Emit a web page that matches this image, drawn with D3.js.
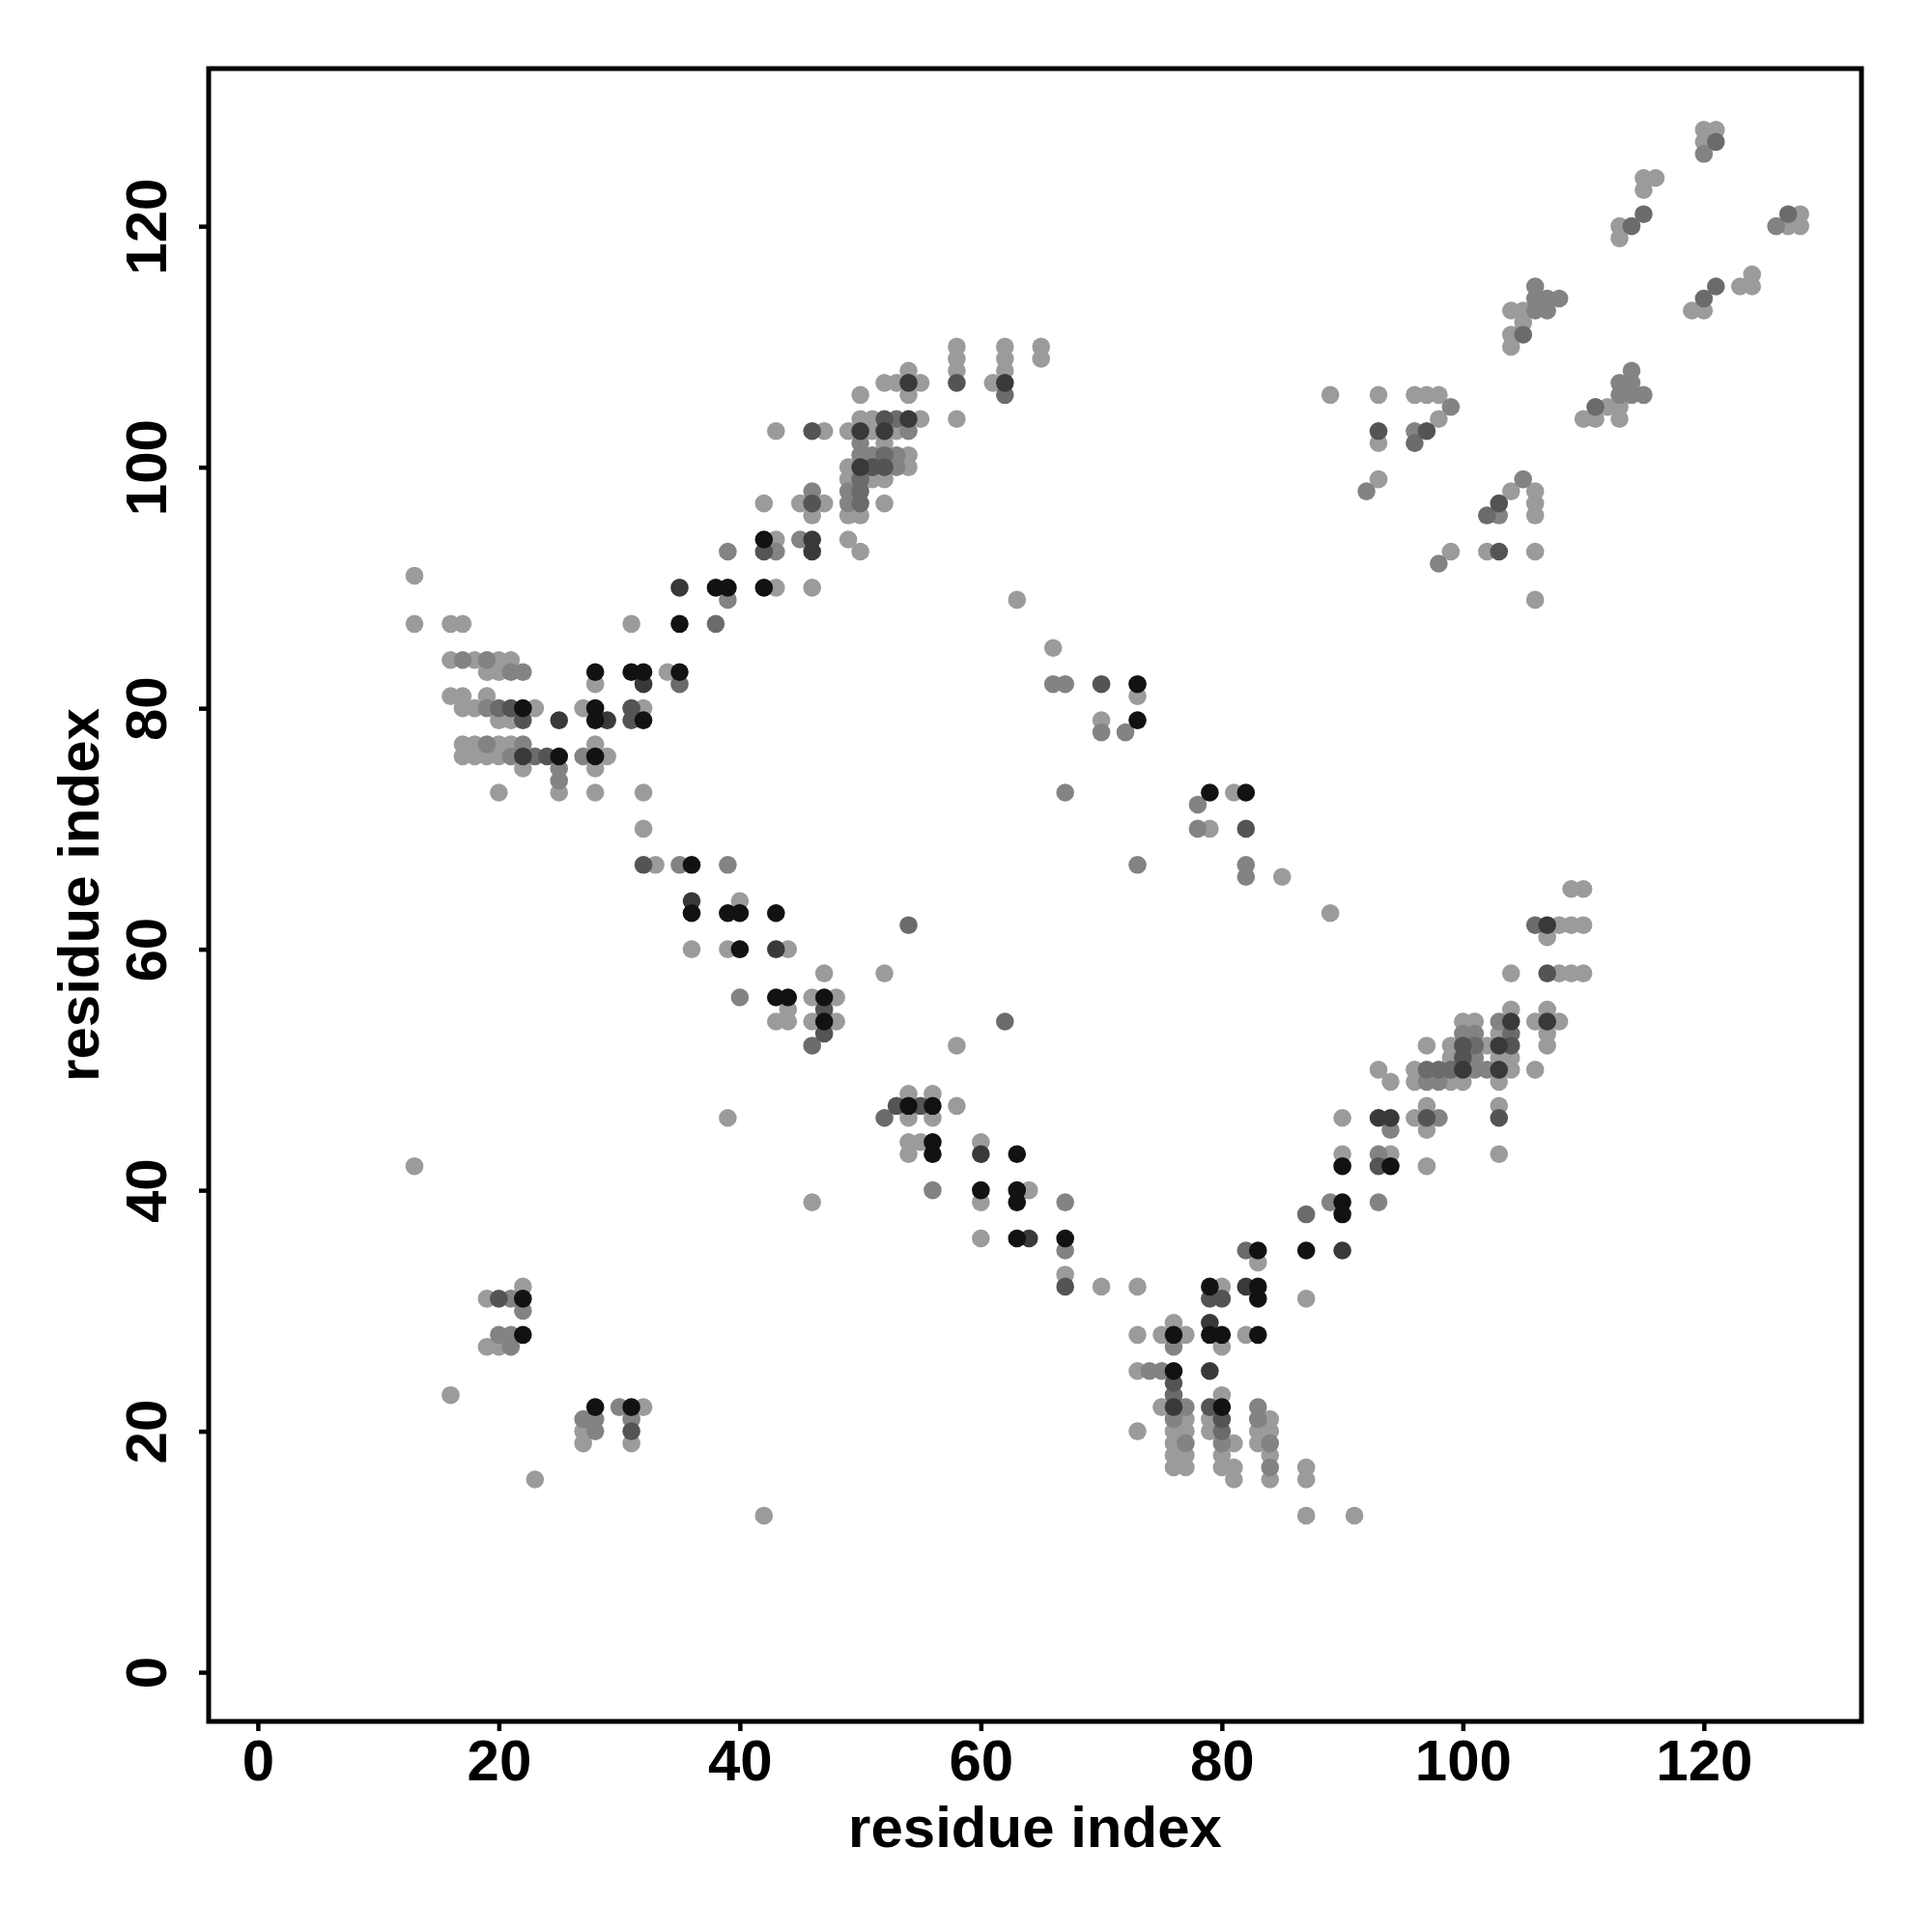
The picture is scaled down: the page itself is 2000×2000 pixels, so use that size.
<!DOCTYPE html>
<html>
<head>
<meta charset="utf-8">
<script src="https://cdn.jsdelivr.net/npm/d3@7"></script>
<style>
  html, body { margin: 0; padding: 0; background: #ffffff; }
  svg text { font-family: "Liberation Sans", Arial, Helvetica, sans-serif; font-weight: bold; fill: #000; }
</style>
</head>
<body>
<svg id="chart" width="2000" height="2000"></svg>
<script>
// ---- data (symmetric contact map: each contact i<j is drawn at (i,j) and (j,i)) ----
const firstResidue = [13,16,17,18,19,20,21,22,23,24,25,27,28,29,31,32,33,34,35,36,38,39,40,42,43,44,45,46,47,48,49,50,51,52,53,54,55,58,61,62,63,65,66,67,70,72,73,89,92,93,96,97,98,99,104,105,106,107,108,113,114,115,116,120,121];

const partnerResidues = [
  [42,87,91],
  [23,81,84,87],
  [76,77,80,81,84,87],
  [76,77,80,84],
  [27,31,76,77,80,81,83,84],
  [27,28,31,73,76,77,79,80,83,84],
  [27,28,31,76,77,79,80,83,84],
  [28,30,31,32,75,76,77,79,80,83],
  [76,80],
  [76],
  [73,74,75,76,79],
  [76,80],
  [73,75,76,77,79,80,82,83],
  [76,79],
  [79,80,83,87],
  [67,70,73,79,80,82,83],
  [67],
  [83],
  [67,82,83,87,90],
  [60,63,64,67],
  [87,90],
  [46,60,63,67,89,90,93],
  [56,60,63,64],
  [90,93,94,97],
  [54,56,60,63,90,93,94,103],
  [54,55,56,60],
  [94,97],
  [52,54,56,90,93,94,96,97,98,103],
  [53,54,55,56,58,97,103],
  [54,56],
  [94,96,97,98,99,100,103],
  [93,96,97,98,99,100,101,102,103,104,106],
  [99,100,101,103,104],
  [58,97,99,100,101,102,103,104,107],
  [100,101,103,104,107],
  [62,100,101,103,104,106,107,108],
  [104,107],
  [104,107,108,109,110],
  [107],
  [106,107,108,109,110],
  [89],
  [109,110],
  [82,85],
  [73,82],
  [78,79,82],
  [78],
  [79,81,82],
  [106],
  [98],
  [99,102,103,106],
  [102,103,106],
  [103,106],
  [104,106],
  [105],
  [110,111,113],
  [111,112,113],
  [113,114,115],
  [113,114],
  [114],
  [119,120],
  [120],
  [121,123,124],
  [124],
  [126,127,128],
  [127,128]
];

// contact strength level, 1 = weakest (light grey) ... 6 = strongest (black)
const contactLevels = [
  [1,1,1],
  [1,1,1,1],
  [1,1,1,1,2,1],
  [1,1,1,1],
  [1,1,1,2,2,1,1,2],
  [1,2,4,1,1,1,1,3,1,1],
  [2,2,2,2,1,1,4,2,1],
  [6,2,6,1,1,5,2,4,6,2],
  [3,1],
  [4],
  [1,2,2,6,5],
  [2,1],
  [1,1,6,1,6,6,1,6],
  [1,5],
  [4,4,6,1],
  [4,1,1,6,1,5,6],
  [1],
  [1],
  [2,3,6,6,5],
  [1,6,5,6],
  [3,6],
  [1,1,6,2,2,6,2],
  [2,6,6,1],
  [6,4,6,1],
  [1,6,5,6,1,2,1,1],
  [1,1,6,1],
  [2,1],
  [3,1,1,1,5,5,1,4,2,4],
  [4,6,4,6,1,1,1],
  [1,1],
  [1,1,2,2,1,1,1],
  [1,1,3,3,3,5,2,2,5,1,1],
  [1,4,2,1,1],
  [1,1,1,4,3,1,5,4,1],
  [2,2,1,3,1],
  [3,1,1,2,5,1,5,1],
  [1,1],
  [1,4,1,1,1],
  [1],
  [3,5,1,1,1],
  [1],
  [1,1],
  [2,1],
  [2,2],
  [2,1,4],
  [2],
  [6,1,6],
  [1],
  [2],
  [1,1,4,1],
  [3,2,1],
  [4,1],
  [1,1],
  [2],
  [1,1,1],
  [3,1,1],
  [2,2,2],
  [2,2],
  [2],
  [1,1],
  [3],
  [3,1,1],
  [1],
  [2,1,1],
  [3,1]
];

const tickValues = [0, 20, 40, 60, 80, 100, 120];
const xTitle = "residue index";
const yTitle = "residue index";

// ---- styles / layout ----
const levelColors = ["#9b9b9b", "#838383", "#6b6b6b", "#545454", "#393939", "#121212"];
const plot = { left: 216, right: 1927, top: 71, bottom: 1782 };
const domain = [-4.08, 133.08];

const svg = d3.select("#chart");
const x = d3.scaleLinear().domain(domain).range([plot.left, plot.right]);
const y = d3.scaleLinear().domain(domain).range([plot.bottom, plot.top]);
const color = d3.scaleOrdinal().domain([1,2,3,4,5,6]).range(levelColors);

// build points
const points = [];
firstResidue.forEach((a, k) => {
  const partners = partnerResidues[k] || [];
  const levels = contactLevels[k] || [];
  partners.forEach((b, m) => {
    const lv = levels[m] || 1;
    points.push({ a: a, b: b, level: lv });
    points.push({ a: b, b: a, level: lv });
  });
});
points.sort((p, q) => p.level - q.level);

svg.append("g")
  .selectAll("circle")
  .data(points)
  .join("circle")
  .attr("cx", d => x(d.a))
  .attr("cy", d => y(d.b))
  .attr("r", 9.3)
  .attr("fill", d => color(d.level));

// axes
const xAxis = svg.append("g")
  .attr("transform", `translate(0,${plot.bottom})`)
  .call(d3.axisBottom(x).tickValues(tickValues).tickSize(10).tickSizeOuter(0));
xAxis.select(".domain").remove();
xAxis.selectAll(".tick line").attr("stroke", "#000").attr("stroke-width", 4.5);
xAxis.selectAll(".tick text")
  .attr("y", 61).attr("dy", null)
  .attr("font-size", 60)
  .attr("text-anchor", "middle");

const yAxis = svg.append("g")
  .attr("transform", `translate(${plot.left},0)`)
  .call(d3.axisLeft(y).tickValues(tickValues).tickSize(10).tickSizeOuter(0));
yAxis.select(".domain").remove();
yAxis.selectAll(".tick line").attr("stroke", "#000").attr("stroke-width", 4.5);
yAxis.selectAll(".tick text")
  .attr("x", null).attr("y", null).attr("dy", null)
  .attr("transform", "translate(-44,0) rotate(-90)")
  .attr("font-size", 60)
  .attr("text-anchor", "middle");

// frame
svg.append("rect")
  .attr("x", plot.left).attr("y", plot.top)
  .attr("width", plot.right - plot.left).attr("height", plot.bottom - plot.top)
  .attr("fill", "none").attr("stroke", "#000").attr("stroke-width", 5);

// titles
svg.append("text")
  .attr("x", (plot.left + plot.right) / 2).attr("y", 1912)
  .attr("text-anchor", "middle").attr("font-size", 60)
  .text(xTitle);
svg.append("text")
  .attr("transform", `translate(102,${(plot.top + plot.bottom) / 2}) rotate(-90)`)
  .attr("text-anchor", "middle").attr("font-size", 60)
  .text(yTitle);
</script>
</body>
</html>
